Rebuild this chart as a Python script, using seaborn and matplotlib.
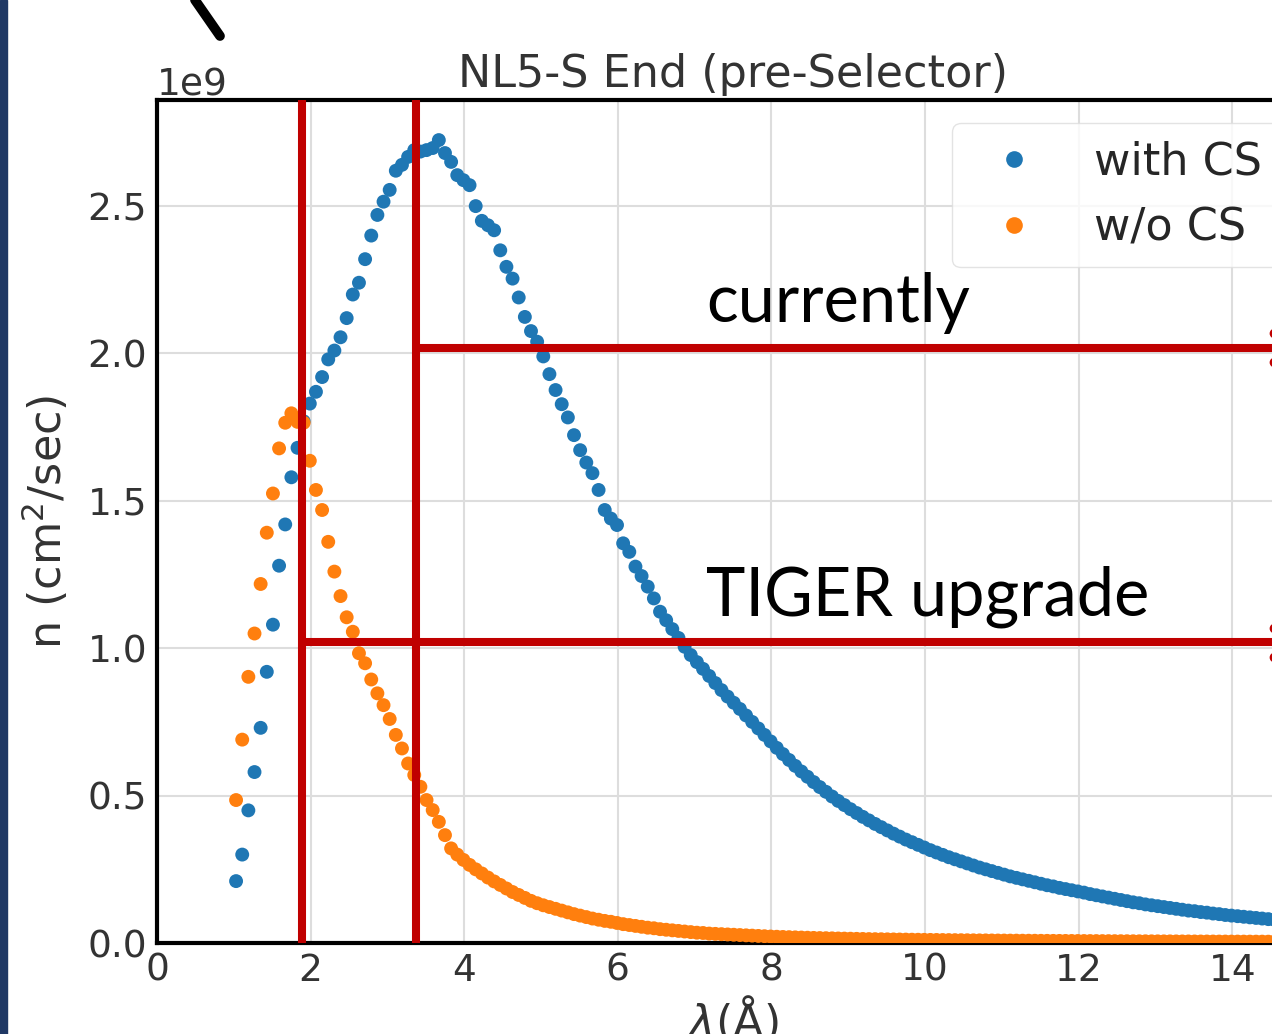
import numpy as np
import pandas as pd
import matplotlib
matplotlib.use('Agg')
import matplotlib.pyplot as plt
import seaborn as sns
from matplotlib.lines import Line2D
from matplotlib.patches import Rectangle

# wavelength grid (Angstrom)
wavelength = [
    1.03, 1.11, 1.19, 1.27, 1.35, 1.43, 1.51, 1.59, 1.67, 1.75,
    1.83, 1.91, 1.99, 2.07, 2.15, 2.23, 2.31, 2.39, 2.47, 2.55,
    2.63, 2.71, 2.79, 2.87, 2.95, 3.03, 3.11, 3.19, 3.27, 3.35,
    3.43, 3.51, 3.59, 3.67, 3.75, 3.83, 3.91, 3.99, 4.07, 4.15,
    4.23, 4.31, 4.39, 4.47, 4.55, 4.63, 4.71, 4.79, 4.87, 4.95,
    5.03, 5.11, 5.19, 5.27, 5.35, 5.43, 5.51, 5.59, 5.67, 5.75,
    5.83, 5.91, 5.99, 6.07, 6.15, 6.23, 6.31, 6.39, 6.47, 6.55,
    6.63, 6.71, 6.79, 6.87, 6.95, 7.03, 7.11, 7.19, 7.27, 7.35,
    7.43, 7.51, 7.59, 7.67, 7.75, 7.83, 7.91, 7.99, 8.07, 8.15,
    8.23, 8.31, 8.39, 8.47, 8.55, 8.63, 8.71, 8.79, 8.87, 8.95,
    9.03, 9.11, 9.19, 9.27, 9.35, 9.43, 9.51, 9.59, 9.67, 9.75,
    9.83, 9.91, 9.99, 10.07, 10.15, 10.23, 10.31, 10.39, 10.47, 10.55,
    10.63, 10.71, 10.79, 10.87, 10.95, 11.03, 11.11, 11.19, 11.27, 11.35,
    11.43, 11.51, 11.59, 11.67, 11.75, 11.83, 11.91, 11.99, 12.07, 12.15,
    12.23, 12.31, 12.39, 12.47, 12.55, 12.63, 12.71, 12.79, 12.87, 12.95,
    13.03, 13.11, 13.19, 13.27, 13.35, 13.43, 13.51, 13.59, 13.67, 13.75,
    13.83, 13.91, 13.99, 14.07, 14.15, 14.23, 14.31, 14.39, 14.47, 14.55,
    14.63,
]

# flux in units of 1e9 cm^-2 s^-1
with_cs = [
    0.21, 0.30, 0.45, 0.58, 0.73, 0.92, 1.08, 1.28, 1.42, 1.58,
    1.68, 1.77, 1.83, 1.87, 1.92, 1.98, 2.01, 2.055, 2.12, 2.20,
    2.24, 2.32, 2.40, 2.47, 2.515, 2.555, 2.62, 2.64, 2.667, 2.69,
    2.685, 2.69, 2.697, 2.724, 2.68, 2.65, 2.605, 2.588, 2.571, 2.50,
    2.45, 2.435, 2.418, 2.35, 2.294, 2.254, 2.19, 2.124, 2.076, 2.04,
    1.99, 1.93, 1.876, 1.828, 1.783, 1.723, 1.672, 1.63, 1.594, 1.537,
    1.469, 1.44, 1.418, 1.356, 1.327, 1.277, 1.245, 1.209, 1.169, 1.124,
    1.095, 1.065, 1.035, 1.005, 0.977, 0.953, 0.930, 0.906, 0.882, 0.858,
    0.836, 0.815, 0.794, 0.772, 0.750, 0.728, 0.706, 0.684, 0.662, 0.641,
    0.621, 0.601, 0.582, 0.564, 0.546, 0.529, 0.513, 0.497, 0.482, 0.468,
    0.454, 0.441, 0.428, 0.416, 0.404, 0.393, 0.382, 0.371, 0.361, 0.351,
    0.342, 0.333, 0.324, 0.315, 0.307, 0.299, 0.291, 0.284, 0.277, 0.270,
    0.263, 0.256, 0.250, 0.244, 0.238, 0.232, 0.226, 0.221, 0.216, 0.211,
    0.206, 0.201, 0.196, 0.192, 0.187, 0.183, 0.179, 0.175, 0.171, 0.166,
    0.162, 0.158, 0.154, 0.150, 0.146, 0.142, 0.138, 0.135, 0.131, 0.128,
    0.125, 0.122, 0.119, 0.116, 0.113, 0.110, 0.108, 0.105, 0.103, 0.100,
    0.098, 0.095, 0.093, 0.091, 0.089, 0.087, 0.085, 0.083, 0.081, 0.079,
    0.078,
]

wo_cs = [
    0.485, 0.69, 0.903, 1.05, 1.218, 1.392, 1.525, 1.678, 1.765, 1.797,
    1.768, 1.765, 1.636, 1.537, 1.469, 1.361, 1.26, 1.177, 1.105, 1.056,
    0.983, 0.949, 0.894, 0.847, 0.807, 0.76, 0.706, 0.66, 0.609, 0.57,
    0.53, 0.485, 0.451, 0.411, 0.366, 0.321, 0.300, 0.282, 0.265, 0.250,
    0.236, 0.222, 0.209, 0.197, 0.185, 0.173, 0.163, 0.153, 0.143, 0.135,
    0.128, 0.122, 0.116, 0.110, 0.104, 0.098, 0.093, 0.088, 0.083, 0.079,
    0.075, 0.072, 0.068, 0.064, 0.061, 0.058, 0.055, 0.052, 0.050, 0.047,
    0.045, 0.043, 0.041, 0.039, 0.037, 0.035, 0.034, 0.032, 0.031, 0.030,
    0.029, 0.028, 0.027, 0.026, 0.025, 0.024, 0.023, 0.022, 0.0212, 0.0205,
    0.0198, 0.0191, 0.0185, 0.0179, 0.0173, 0.0168, 0.0163, 0.0158, 0.0153, 0.0149,
    0.0145, 0.0141, 0.0137, 0.0133, 0.0130, 0.0127, 0.0124, 0.0121, 0.0118, 0.0115,
    0.0112, 0.0110, 0.0107, 0.0105, 0.0103, 0.0101, 0.0099, 0.0097, 0.0095, 0.0093,
    0.0091, 0.0089, 0.0088, 0.0086, 0.0084, 0.0083, 0.0081, 0.0080, 0.0078, 0.0077,
    0.0076, 0.0074, 0.0073, 0.0072, 0.0071, 0.0070, 0.0069, 0.0068, 0.0067, 0.0066,
    0.0065, 0.0064, 0.0063, 0.0062, 0.0061, 0.0060, 0.0059, 0.0058, 0.0058, 0.0057,
    0.0056, 0.0055, 0.0055, 0.0054, 0.0053, 0.0053, 0.0052, 0.0051, 0.0051, 0.0050,
    0.0049, 0.0049, 0.0048, 0.0048, 0.0047, 0.0047, 0.0046, 0.0046, 0.0045, 0.0045,
    0.0044,
]

series_names = ['with CS', 'w/o CS']
series_colors = ['#1f77b4', '#ff7f0e']

# red guide lines: wavelength cut-offs and flux levels
cut_now = 3.37
cut_tiger = 1.89
flux_now = 2.02e9
flux_tiger = 1.02e9
annotations = ['currently', 'TIGER upgrade']
edge_dots = [2.07e9, 1.97e9, 1.07e9, 0.97e9]

df = pd.DataFrame({
    'lam': wavelength + wavelength,
    'n': [v * 1e9 for v in with_cs] + [v * 1e9 for v in wo_cs],
    'config': [series_names[0]] * len(wavelength) + [series_names[1]] * len(wavelength),
})

sns.set_style('whitegrid')
plt.rcParams['font.family'] = ['DejaVu Sans']

fig = plt.figure(figsize=(12.72, 10.34), dpi=100)
ax = fig.add_axes([0.1234, 0.0880, 0.9057, 0.8153])

sns.scatterplot(data=df, x='lam', y='n', hue='config', hue_order=series_names,
                palette=series_colors, s=100, linewidth=0, ax=ax, zorder=3)

red = '#c00000'
ax.axvline(cut_tiger, color=red, lw=5.8, zorder=4)
ax.axvline(cut_now, color=red, lw=5.8, zorder=4)
ax.hlines(flux_now, cut_now, 15, color=red, lw=5.8, zorder=4)
ax.hlines(flux_tiger, cut_tiger, 15, color=red, lw=5.8, zorder=4)
ax.plot([14.55] * len(edge_dots), edge_dots, 'o', color=red, ms=6, zorder=5)

ax.set_xlim(0, 15)
ax.set_ylim(0, 2.86e9)
ax.set_xticks(range(0, 15, 2))
ax.set_yticks([0, 0.5e9, 1.0e9, 1.5e9, 2.0e9, 2.5e9])

ax.grid(True, color='#dddddd', lw=1.5)
for sp in ax.spines.values():
    sp.set_color('black')
    sp.set_linewidth(3)
ax.tick_params(direction='in', length=6, width=1.5, labelsize=27, pad=7,
               colors='#333333')
ax.yaxis.get_offset_text().set_fontsize(27)
ax.yaxis.get_offset_text().set_color('#333333')

ax.set_title('NL5-S End (pre-Selector)', fontsize=32, color='#333333', pad=9)
ax.set_xlabel(r'$\lambda$(Å)', fontsize=32, color='#333333', labelpad=4)
ax.set_ylabel('n (cm$^2$/sec)', fontsize=32, color='#333333', labelpad=12)

handles, labels = ax.get_legend_handles_labels()
leg = ax.legend(handles, labels, loc='upper left', bbox_to_anchor=(0.69, 0.973),
                borderaxespad=0, fontsize=32, labelspacing=0.52, borderpad=0.4,
                handletextpad=0.8, markerscale=1.2, frameon=True,
                framealpha=0.8, edgecolor='#dddddd', title=None)
for t in leg.get_texts():
    t.set_color('#262626')

# slide overlays
fig.text(706 / 1272, (1034 - 322) / 1034, annotations[0], fontsize=48,
         family='Lato', va='baseline', color='black')
fig.text(706 / 1272, (1034 - 615) / 1034, annotations[1], fontsize=48,
         family='Lato', va='baseline', color='black')
fig.add_artist(Rectangle((0, 0), 7 / 1272, 1, transform=fig.transFigure,
                         color='#1f3864', zorder=10))
fig.add_artist(Line2D([195 / 1272, 220 / 1272], [1.0, (1034 - 36) / 1034],
                      transform=fig.transFigure, color='black', lw=7,
                      solid_capstyle='round'))

fig.savefig('out.png', dpi=100)
